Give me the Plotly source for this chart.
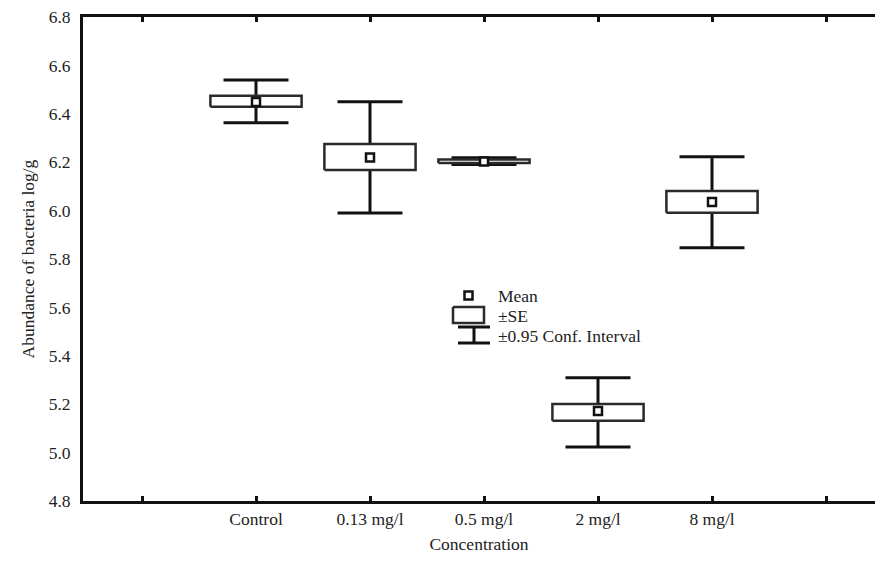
import plotly.graph_objects as go

categories = ["Control", "0.13 mg/l", "0.5 mg/l", "2 mg/l", "8 mg/l"]
mean_vals = [6.449, 6.219, 6.203, 5.172, 6.036]
se_low = [6.429, 6.168, 6.197, 5.132, 5.991]
se_high = [6.475, 6.275, 6.211, 5.201, 6.081]
ci_low = [6.363, 5.990, 6.190, 5.023, 5.847]
ci_high = [6.540, 6.450, 6.218, 5.309, 6.223]
y_ticks = [4.8, 5.0, 5.2, 5.4, 5.6, 5.8, 6.0, 6.2, 6.4, 6.6, 6.8]
legend_text = ["Mean", "±SE", "±0.95 Conf. Interval"]

positions = list(range(1, len(categories) + 1))
BOX_HW = 0.40
CAP_HW = 0.285
FS = 17.5
INK = "#111111"
BOXC = "#2a2a2a"

fig = go.Figure()

# whiskers (CI)
for x, lo, hi in zip(positions, ci_low, ci_high):
    fig.add_trace(go.Scatter(
        x=[x, x, None, x - CAP_HW, x + CAP_HW, None, x - CAP_HW, x + CAP_HW],
        y=[lo, hi, None, lo, lo, None, hi, hi],
        mode="lines", line=dict(color=INK, width=3),
        hoverinfo="skip", showlegend=False))

# SE boxes
for x, lo, hi in zip(positions, se_low, se_high):
    fig.add_trace(go.Scatter(
        x=[x - BOX_HW, x + BOX_HW, x + BOX_HW, x - BOX_HW, x - BOX_HW],
        y=[lo, lo, hi, hi, lo],
        mode="lines", fill="toself", fillcolor="white",
        line=dict(color=BOXC, width=2.5),
        hoverinfo="skip", showlegend=False))

# means
fig.add_trace(go.Scatter(
    x=positions, y=mean_vals, mode="markers",
    marker=dict(symbol="square", size=8, color="white",
                line=dict(color=INK, width=2.5)),
    showlegend=False, hoverinfo="skip"))

# ---- custom legend key, drawn on an overlay axis in pixel-like units ----
fig.add_trace(go.Scatter(  # mean icon
    x=[468.5], y=[295.5], mode="markers", xaxis="x2", yaxis="y2",
    marker=dict(symbol="square", size=8, color="white", line=dict(color=INK, width=2.5)),
    showlegend=False, hoverinfo="skip"))
fig.add_trace(go.Scatter(  # SE icon
    x=[453, 484, 484, 453, 453], y=[307, 307, 323, 323, 307], xaxis="x2", yaxis="y2",
    mode="lines", fill="toself", fillcolor="white", line=dict(color=BOXC, width=2.5),
    showlegend=False, hoverinfo="skip"))
fig.add_trace(go.Scatter(  # CI icon
    x=[458, 490, None, 474, 474, None, 458, 490], y=[327, 327, None, 327, 343, None, 343, 343],
    xaxis="x2", yaxis="y2", mode="lines", line=dict(color=INK, width=3),
    showlegend=False, hoverinfo="skip"))
for t, yy in zip(legend_text, [296, 316, 336]):
    fig.add_annotation(x=496, y=yy, xref="x2", yref="y2", text=t, showarrow=False,
                       xanchor="left", yanchor="middle", font=dict(size=FS, color="#222222"))

fig.update_layout(
    width=875, height=562,
    margin=dict(l=83, r=0, t=17, b=61),
    paper_bgcolor="white", plot_bgcolor="white",
    font=dict(family="Liberation Serif, Times New Roman, serif", size=FS, color="#222222"),
    xaxis=dict(
        range=[(83 - 142) / 114, (875 - 142) / 114],
        tickmode="array", tickvals=[0, 1, 2, 3, 4, 5, 6],
        ticktext=[""] + categories + [""],
        ticks="inside", ticklen=5, tickwidth=3, tickcolor=INK,
        showline=True, linecolor=INK, linewidth=3, mirror="ticks",
        showgrid=False, zeroline=False,
        title=dict(text="Concentration", standoff=10, font=dict(size=FS)),
    ),
    yaxis=dict(
        range=[4.8, 6.8], tickmode="array", tickvals=y_ticks,
        ticktext=[f"{v:.1f}" for v in y_ticks],
        ticks="", showline=True, linecolor=INK, linewidth=3,
        showgrid=False, zeroline=False, ticklabelstandoff=6,
        title=dict(text="Abundance of bacteria log/g", standoff=10, font=dict(size=FS)),
    ),
    xaxis2=dict(range=[83, 875], overlaying="x", visible=False, fixedrange=True),
    yaxis2=dict(range=[501, 17], overlaying="y", visible=False, fixedrange=True),
)

fig.write_html(
    "out.html",
    config={"displayModeBar": False},
    post_script="document.body.style.margin='0';document.body.style.overflow='hidden';"
                "document.documentElement.style.overflow='hidden';",
)
